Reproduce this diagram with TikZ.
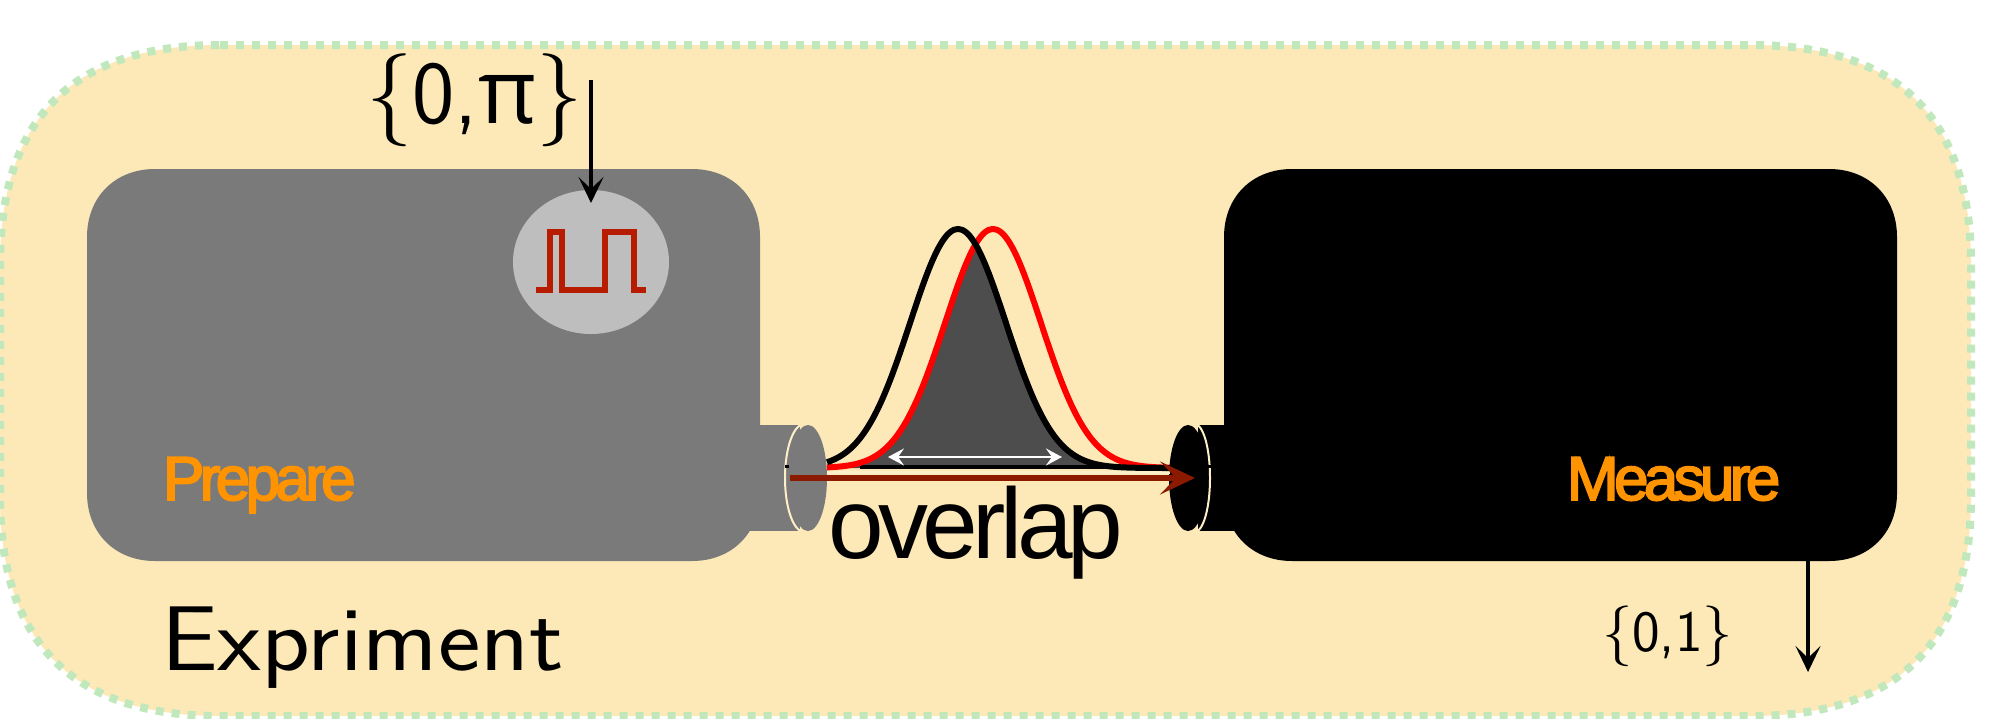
\documentclass[tikz,border=0pt]{standalone}
\usepackage{fontspec}
\usetikzlibrary{arrows.meta,shapes.geometric}
\newfontfamily\helv[FakeBold=3,LetterSpace=-7.5]{Liberation Sans}
\newfontfamily\helvplain[LetterSpace=-5.5]{Liberation Sans}
\newfontfamily\pifont{Open Sans}
\definecolor{creamfill}{HTML}{FDE9B8}
\definecolor{dotgreen}{HTML}{C0E8BC}
\definecolor{boxgray}{HTML}{7A7A7A}
\definecolor{softgray}{HTML}{BEBEBE}
\definecolor{pulsered}{HTML}{B81C00}
\definecolor{beamred}{HTML}{8B1A00}
\definecolor{orangetxt}{HTML}{FF9300}
\definecolor{overlapgray}{HTML}{4D4D4D}
\definecolor{rimcream}{HTML}{FDEFC8}
% squircle outline: x0,y0,x1,y1,a,b
\newcommand\sqpath[6]{
  ({#1+#5},#2) -- ({#3-#5},#2)
  .. controls ({#3-#6},#2) and (#3,{#2+#6}) .. (#3,{#2+#5})
  -- (#3,{#4-#5})
  .. controls (#3,{#4-#6}) and ({#3-#6},#4) .. ({#3-#5},#4)
  -- ({#1+#5},#4)
  .. controls ({#1+#6},#4) and (#1,{#4-#6}) .. (#1,{#4-#5})
  -- (#1,{#2+#5})
  .. controls (#1,{#2+#6}) and ({#1+#6},#2) .. ({#1+#5},#2) -- cycle
}
\tikzset{
  x=0.5pt,y=-0.5pt,
  lbl/.style={inner sep=0pt,outer sep=0pt,anchor=base west},
  sig/.style={line width=2pt,-{Stealth[length=13pt,width=12.5pt,inset=6pt]},black},
  curveline/.style={line width=3pt,line join=round},
  rim/.style={line width=1pt,rimcream},
}
\begin{document}
\begin{tikzpicture}
\useasboundingbox (0,0) rectangle (2001,718);
\fill[white] (0,0) rectangle (2001,718);
% experiment region
\fill[creamfill] \sqpath{0}{45}{1971}{716}{220}{73};
\draw[dotgreen,line width=4pt,dash pattern=on 4pt off 4pt] \sqpath{0}{45}{1971}{716}{220}{73};
% ports and boxes
\fill[boxgray] (740,425) rectangle (800,531);
\fill[black] (1198,425) rectangle (1250,531);
\fill[boxgray] \sqpath{87}{169}{760}{561}{68}{28};
\fill[black] \sqpath{1224}{169}{1897}{561}{68}{28};
\draw[rim] (800,425) .. controls (780,440) and (780,516) .. (800,531);
\draw[rim] (1198,425) .. controls (1214,440) and (1214,516) .. (1198,531);
\fill[boxgray] (808,478) ellipse[x radius=19,y radius=53];
\fill[black] (1188,478) ellipse[x radius=19,y radius=53];
\draw[black,line width=1.5pt] (785,466) -- (789,466);
\draw[black,line width=1.5pt] (1208,466) -- (1211,466);
% pulse disc
\node[fill=softgray,ellipse,draw=none,minimum width=78pt,minimum height=72pt,inner sep=0pt,outer sep=0pt] (disc) at (591,262) {};
\draw[pulsered,line width=2.6pt,line join=miter]
  (536,290) -- (550,290) -- (550,232) -- (562,232) -- (562,290) -- (605,290) -- (605,232) -- (634,232) -- (634,290) -- (646,290);
% overlap shading
\fill[overlapgray] (850,468)
  -- plot[domain=850:975.5,samples=50,smooth] (\x,{468-239*exp(-((\x-993)/48)^2/2)})
  -- plot[domain=975.5:1130,samples=50,smooth] (\x,{468-239*exp(-((\x-958)/48)^2/2)})
  -- (1130,468) -- cycle;
% baseline
\draw[rimcream,line width=1.5pt] (827,472) -- (1170,472);
% gaussians
\draw[black,line width=2.2pt] (860,467) -- (1172,467);
\draw[red,curveline] plot[domain=827:1170,samples=90,smooth] (\x,{468-239*exp(-((\x-993)/48)^2/2)});
\draw[black,curveline] plot[domain=827:1170,samples=90,smooth] (\x,{468-239*exp(-((\x-958)/48)^2/2)});
% width arrow
\coordinate (wl) at (888,457);
\coordinate (wr) at (1062,457);
\draw[white,line width=1.4pt,{Stealth[length=8pt,width=8.5pt,inset=3pt]}-{Stealth[length=8pt,width=8.5pt,inset=3pt]}] (wl) -- (wr);
% beam
\coordinate (bs) at (790,478);
\coordinate (be) at (1195,478);
\draw[beamred,line width=2.6pt,-{Stealth[length=17.5pt,width=16.5pt,inset=8pt]}] (bs) -- (be);
% signals
\coordinate (inp) at (591,80);
\coordinate (inq) at (591,203);
\draw[sig] (inp) -- (inq);
\coordinate (outp) at (1808,561);
\coordinate (outq) at (1808,672);
\draw[sig] (outp) -- (outq);
% labels
\node[lbl,text=orangetxt] (tprep) at (163,500) {\helv\fontsize{31}{36}\selectfont Prepare};
\node[lbl,text=orangetxt] (tmeas) at (1567,500) {\helv\fontsize{31}{36}\selectfont Measure};
\node[lbl] (tover) at (828,558) {\helvplain\fontsize{50}{58}\selectfont overlap};
\node[lbl] (texp) at (161,670) {\scalebox{1.1}[1]{\sffamily\fontsize{46}{54}\selectfont Expriment}};
\node[lbl] (tin) at (366,123) {\scalebox{1.87}{\sffamily\fontsize{24}{28}\selectfont $\{$0,{\pifont π}$\}$}};
\node[lbl] (tout) at (1602,651) {\scalebox{1.22}{\sffamily\fontsize{24}{28}\selectfont $\{$0,1$\}$}};
\end{tikzpicture}
\end{document}
